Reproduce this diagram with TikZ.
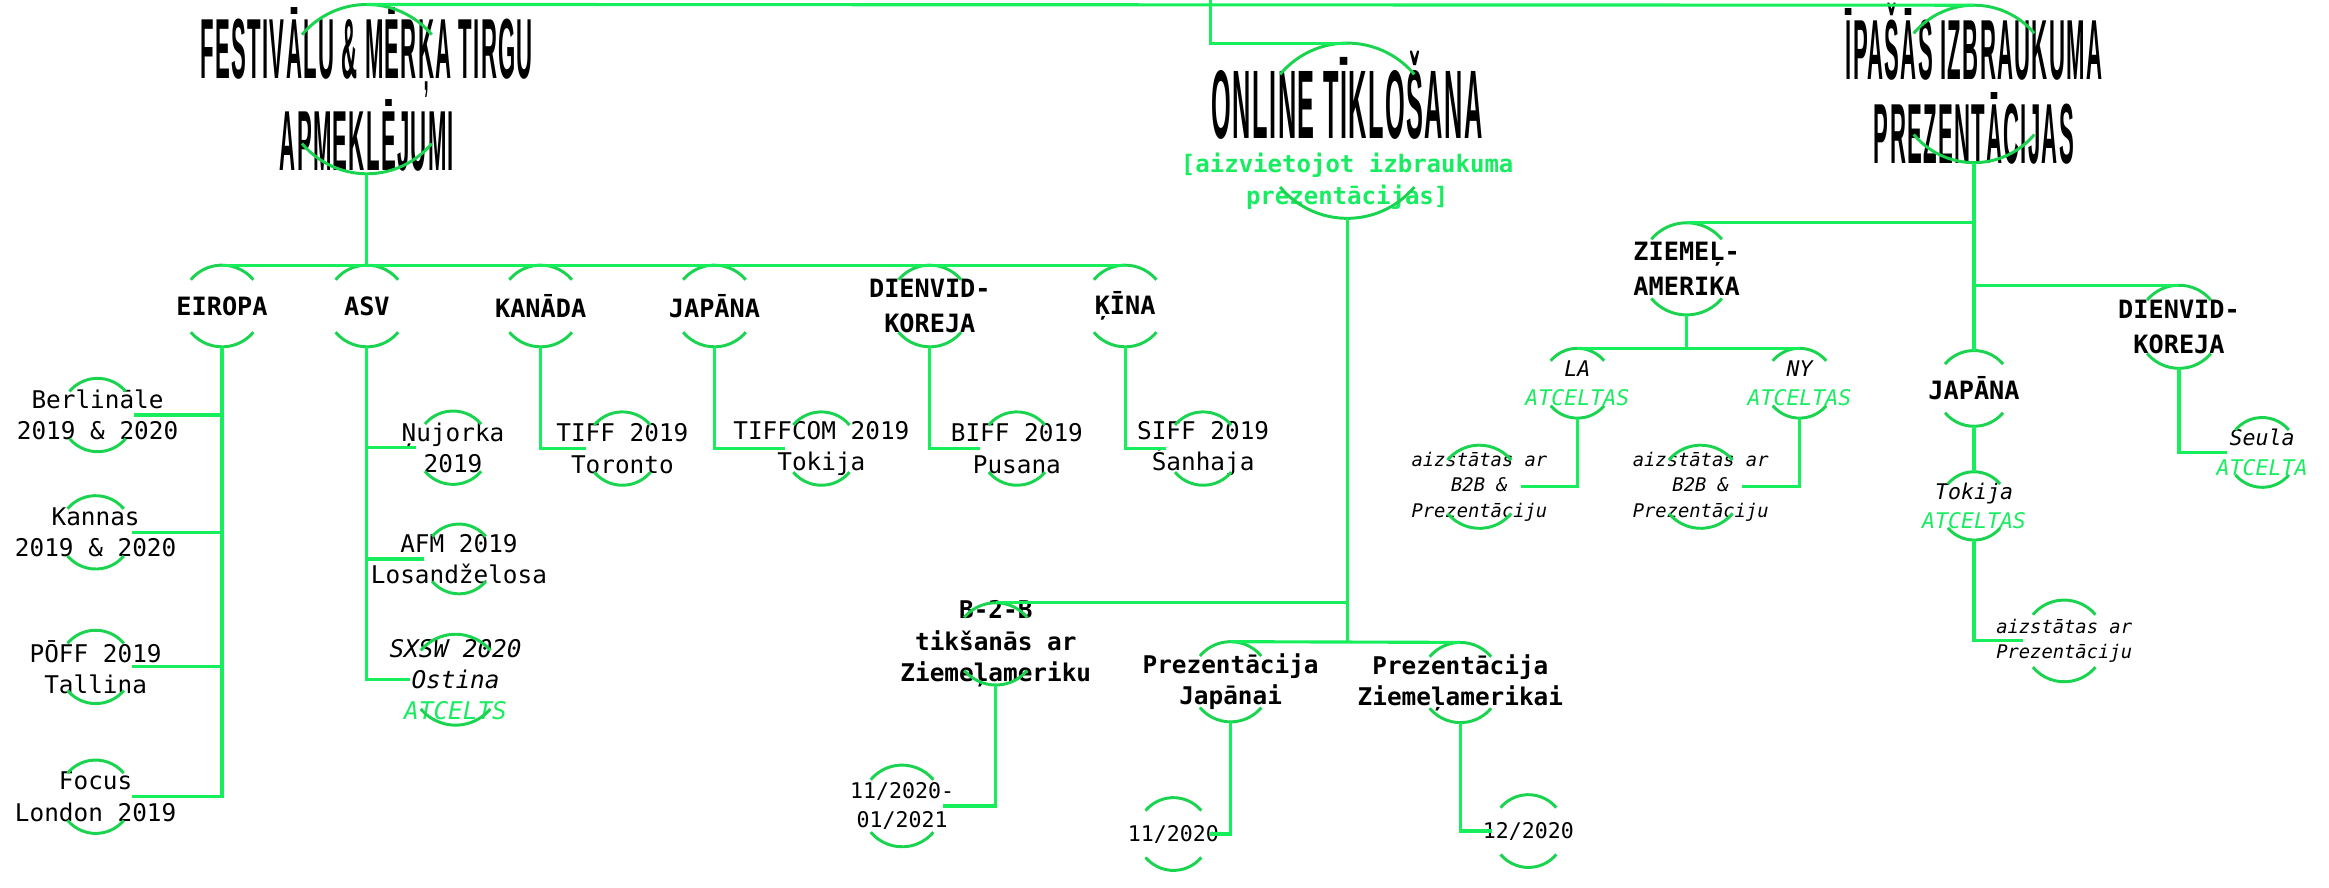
\documentclass[tikz,border=0pt]{standalone}
\usepackage{fontspec}
\setmonofont{DejaVu Sans Mono}
\newfontfamily\titlefont[FakeStretch=0.26, LetterSpace=1.5]{Liberation Sans}
\usepackage{tikz}
\definecolor{linegreen}{RGB}{22,238,92}
\definecolor{ringgreen}{RGB}{26,212,80}
\definecolor{textgreen}{RGB}{24,236,96}
\newcommand{\gone}[1]{\textcolor{textgreen}{#1}}
\tikzset{
    ring/.style={circle, inner sep=0pt, outer sep=0pt, minimum size=#1*0.06cm},
    link/.style={draw=linegreen, line width=1.8pt},
    arcline/.style={draw=ringgreen, line width=1.7pt},
    common/.style={align=center, inner sep=0pt},
    title/.style={common, font=\titlefont\bfseries\fontsize{49}{48}\selectfont},
    bigtitle/.style={common, font=\titlefont\bfseries\fontsize{56}{56}\selectfont},
    sub/.style={common, text=textgreen, font=\ttfamily\bfseries\fontsize{13.8}{18.3}\selectfont},
    head/.style={common, font=\ttfamily\bfseries\fontsize{14.5}{20}\selectfont},
    leaf/.style={common, font=\ttfamily\fontsize{14}{18}\selectfont},
    leafb/.style={common, font=\ttfamily\bfseries\fontsize{14}{18}\selectfont},
    leafi/.style={common, font=\ttfamily\itshape\fontsize{14}{18}\selectfont},
    note/.style={common, font=\ttfamily\itshape\fontsize{12.4}{17}\selectfont},
    small/.style={common, font=\ttfamily\itshape\fontsize{10.8}{14.5}\selectfont},
    date/.style={common, font=\ttfamily\fontsize{12.4}{16.5}\selectfont}
}

\begin{document}
\begin{tikzpicture}[x=0.03cm, y=-0.03cm]
    \useasboundingbox (0,0) rectangle (1568,597.3);

    % titles
    \node[ring=57, label={[title]center:{FESTIVĀLU \& MĒRĶA TIRGU\\APMEKLĒJUMI}}] (fest) at (247,60) {};
    \node[ring=59] (onl) at (907,88) {};
    \node[bigtitle] (onlt) at (907,64) {ONLINE TĪKLOŠANA};
    \node[sub] (onls) at (907,122) {[aizvietojot izbraukuma\\prezentācijas]};
    \node[ring=53, label={[title]center:{ĪPAŠĀS IZBRAUKUMA\\PREZENTĀCIJAS}}] (ipa) at (1329,56.5) {};
    \coordinate (top) at (815,0);

    % festivali
    \path
        node[ring=27.5, label={[head]center:EIROPA}] (eir) at (149.5,206) {}
        node[ring=27.5, label={[head]center:ASV}] (asv) at (247,206) {}
        node[ring=27.5, label={[head]center:KANĀDA}] (kan) at (364,206) {}
        node[ring=27.5, label={[head]center:JAPĀNA}] (jap) at (481,206) {}
        node[ring=27.5, label={[head]center:{DIENVID-\\KOREJA}}] (dk) at (626,206) {}
        node[ring=27.5, label={[head]center:ĶĪNA}] (kin) at (757.5,206) {};

    \path
        node[ring=24.7, label={[leaf]center:{Berlināle\\2019 \& 2020}}] (berl) at (65.7,279.4) {}
        node[ring=24.7, label={[leaf]center:{Kannas\\2019 \& 2020}}] (kann) at (64.4,358.4) {}
        node[ring=24.7, label={[leaf]center:{PŌFF 2019\\Tallina}}] (poff) at (64.4,449) {}
        node[ring=24.7, label={[leaf]center:{Focus\\London 2019}}] (focus) at (64.4,536.4) {}
        node[ring=24.7, label={[leaf]center:{Ņujorka\\2019}}] (nuj) at (305,301.4) {}
        node[ring=23.5, label={[leaf]center:{AFM 2019\\Losandželosa}}] (afm) at (309,376.3) {}
        node[ring=30.6, label={[leafi]center:{SXSW 2020\\Ostina\\\gone{ATCELTS}}}] (sxsw) at (306.7,457.6) {}
        node[ring=24.7, label={[leaf]center:{TIFF 2019\\Toronto}}] (tiff) at (419,302) {}
        node[ring=24.7, label={[leaf]center:{TIFFCOM 2019\\Tokija}}] (tcom) at (553,302) {}
        node[ring=24.7, label={[leaf]center:{BIFF 2019\\Pusana}}] (biff) at (684.6,302) {}
        node[ring=24.7, label={[leaf]center:{SIFF 2019\\Šanhaja}}] (siff) at (810,302) {};

    % online
    \path
        node[ring=27.7, label={[leafb]center:{B-2-B\\tikšanās ar\\Ziemeļameriku}}] (b2b) at (670.4,433.5) {}
        node[ring=27, label={[leafb]center:{Prezentācija\\Japānai}}] (pja) at (828.5,459) {}
        node[ring=27, label={[leafb]center:{Prezentācija\\Ziemeļamerikai}}] (pzi) at (983.2,459.5) {}
        node[ring=27.5, label={[date]center:{11/2020-\\01/2021}}] (d1) at (607.3,542.6) {}
        node[ring=24.5, label={[date]center:11/2020}] (d2) at (790,561.5) {}
        node[ring=24.5, label={[date]center:12/2020}] (d3) at (1029,559.5) {};

    % izbraukumi
    \path
        node[ring=31, label={[head]center:{ZIEMEĻ-\\AMERIKA}}] (zam) at (1135.5,181) {}
        node[ring=25.5, label={[head]center:JAPĀNA}] (japr) at (1329,261.5) {}
        node[ring=28, label={[head]center:{DIENVID-\\KOREJA}}] (dkr) at (1467,220) {}
        node[ring=23.5, label={[note]center:{LA\\\gone{ATCELTAS}}}] (la) at (1062,258) {}
        node[ring=23.5, label={[note]center:{NY\\\gone{ATCELTAS}}}] (ny) at (1211.5,258) {}
        node[ring=28, label={[small]center:{aizstātas ar\\B2B \&\\Prezentāciju}}] (laa) at (996,327.7) {}
        node[ring=28, label={[small]center:{aizstātas ar\\B2B \&\\Prezentāciju}}] (nya) at (1145,327.7) {}
        node[ring=23, label={[note]center:{Tokija\\\gone{ATCELTAS}}}] (tok) at (1329,340.6) {}
        node[ring=27.5, label={[small]center:{aizstātas ar\\Prezentāciju}}] (toka) at (1389.7,431.5) {}
        node[ring=23.5, label={[note]center:{Seula\\\gone{ATCELTA}}}] (seul) at (1523,304.6) {};

    \foreach \n/\r in {fest/57, onl/59, ipa/53, eir/27.5, asv/27.5, kan/27.5, jap/27.5, dk/27.5, kin/27.5,
            berl/24.7, kann/24.7, poff/24.7, focus/24.7, nuj/24.7, afm/23.5, sxsw/30.6,
            tiff/24.7, tcom/24.7, biff/24.7, siff/24.7, b2b/27.7, pja/27, pzi/27,
            d1/27.5, d2/24.5, d3/24.5, zam/31, japr/25.5, dkr/28, la/23.5, ny/23.5,
            laa/28, nya/28, tok/23, toka/27.5, seul/23.5}
        \draw[arcline] (\n.40) arc[start angle=40, end angle=140, radius=\r*0.03cm]
                       (\n.220) arc[start angle=220, end angle=320, radius=\r*0.03cm];

    \draw[link] (fest.north) -- (ipa.north);
    \draw[link] (top) |- (onl.north);

    \draw[link] (fest.south) -- (asv.north);
    \draw[link] (eir.north) -- (kin.north);
    \draw[link] (eir.south) |- (focus.east);
    \foreach \n in {berl, kann, poff}
        \draw[link] (\n.east) -- (\n.east -| eir.south);
    \draw[link] (asv.south) |- (sxsw.west);
    \foreach \n in {nuj, afm}
        \draw[link] (\n.west) -- (\n.west -| asv.south);
    \draw[link] (kan.south) |- (tiff.west);
    \draw[link] (jap.south) |- (tcom.west);
    \draw[link] (dk.south) |- (biff.west);
    \draw[link] (kin.south) |- (siff.west);

    \draw[link] (onl.south) |- (b2b.north);
    \draw[link] (onl.south) -- (onl.south |- pja.north);
    \draw[link] (pja.north) -- (pzi.north);
    \draw[link] (b2b.south) |- (d1.east);
    \draw[link] (pja.south) |- (d2.east);
    \draw[link] (pzi.south) |- (d3.west);

    \draw[link] (ipa.south) -- (japr.north);
    \draw[link] (zam.north) -- (zam.north -| ipa.south);
    \draw[link] (dkr.north) -- (dkr.north -| ipa.south);
    \draw[link] (zam.south) -- (zam.south |- la.north);
    \draw[link] (la.north) -- (ny.north);
    \draw[link] (la.south) |- (laa.east);
    \draw[link] (ny.south) |- (nya.east);
    \draw[link] (japr.south) -- (tok.north);
    \draw[link] (tok.south) |- (toka.west);
    \draw[link] (dkr.south) |- (seul.west);
\end{tikzpicture}
\end{document}
